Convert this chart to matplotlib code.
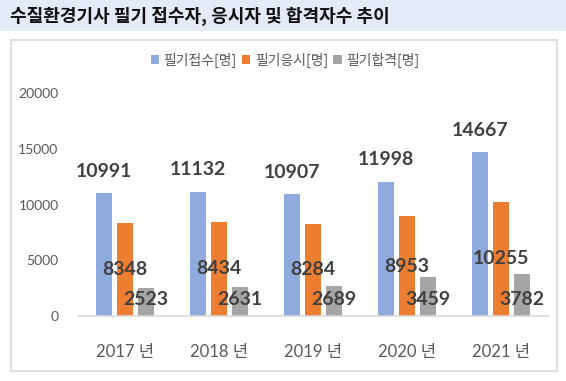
import matplotlib
matplotlib.use("Agg")
import matplotlib.pyplot as plt
from matplotlib.patches import Rectangle
import numpy as np

categories = ["2017 년", "2018 년", "2019 년", "2020 년", "2021 년"]
applied = [10991, 11132, 10907, 11998, 14667]
took = [8348, 8434, 8284, 8953, 10255]
passed = [2523, 2631, 2689, 3459, 3782]
series_names = ["필기접수[명]", "필기응시[명]", "필기합격[명]"]
yticks = [0, 5000, 10000, 15000, 20000]
title = "수질환경기사 필기 접수자, 응시자 및 합격자수 추이"

W, H = 566, 381
fig = plt.figure(figsize=(W / 100, H / 100), dpi=100)
fig.patch.set_facecolor("white")

FAM = ["Lato", "Noto Sans CJK KR", "DejaVu Sans"]
KFAM = ["Noto Sans CJK KR", "DejaVu Sans"]

# title bar
fig.patches.append(Rectangle((0, 1 - 31 / H), 1, 31 / H, transform=fig.transFigure,
                             facecolor="#E4EBF7", edgecolor="none", zorder=0))
fig.text(10 / W, 1 - 16 / H, title, family=KFAM, fontsize=13, fontweight="bold",
         color="#111111", va="center", ha="left")

# chart border
fig.patches.append(Rectangle((11 / W, 1 - 371 / H), (557 - 11) / W, (371 - 40) / H,
                             transform=fig.transFigure, facecolor="none",
                             edgecolor="#D9D9D9", linewidth=1.2, zorder=0))

ax = fig.add_axes([78 / W, (H - 316) / H, (548 - 78) / W, (316 - 93) / H])
ax.set_facecolor("none")

x = np.arange(len(categories))
bw = 0.18
step = 0.223
colors = ["#8FAADC", "#ED7D31", "#A5A5A5"]
b1 = ax.bar(x - step, applied, bw, color=colors[0], label=series_names[0], zorder=2)
b2 = ax.bar(x, took, bw, color=colors[1], label=series_names[1], zorder=2)
b3 = ax.bar(x + step, passed, bw, color=colors[2], label=series_names[2], zorder=2)

lab_kw = dict(family=FAM, fontsize=14, fontweight="bold", color="#404040",
              ha="center", va="center", zorder=5)
for xi, v in zip(x - step, applied):
    ax.text(xi, v + 2000, str(v), **lab_kw)
for xi, v in zip(x, took):
    ax.text(xi, v / 2, str(v), **lab_kw)
for xi, v in zip(x + step, passed):
    ax.text(xi, 1450, str(v), **lab_kw)

ax.set_xlim(-0.5, len(categories) - 0.5)
ax.set_ylim(0, 20000)
ax.set_yticks(yticks)
ax.set_yticklabels([str(t) for t in yticks], family=FAM, fontsize=10, color="#595959")
ax.set_xticks(x)
ax.set_xticklabels(categories, family=FAM, fontsize=12, color="#595959")
ax.tick_params(axis="both", length=0)
ax.tick_params(axis="x", pad=20)
ax.tick_params(axis="y", pad=14)
for s in ["top", "right", "left"]:
    ax.spines[s].set_visible(False)
ax.spines["bottom"].set_color("#D9D9D9")
ax.spines["bottom"].set_linewidth(1.2)

leg = fig.legend(handles=[b1, b2, b3], labels=series_names, loc="center",
                 bbox_to_anchor=(285 / W, 1 - 60 / H), ncol=3, frameon=False,
                 prop={"family": KFAM, "size": 10}, handlelength=0.6, handleheight=0.6,
                 handletextpad=0.3, columnspacing=0.4, labelcolor="#595959")

fig.savefig("out.png", dpi=100)
